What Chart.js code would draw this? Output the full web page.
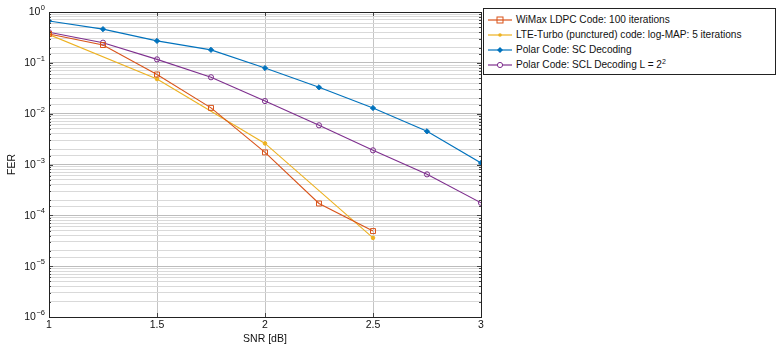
<!DOCTYPE html>
<html>
<head>
<meta charset="utf-8">
<script src="https://cdn.jsdelivr.net/npm/chart.js@4/dist/chart.umd.min.js"></script>
<style>
  html, body { margin: 0; padding: 0; background: #fff; }
  #wrap { position: relative; width: 778px; height: 345px; }
  #legend {
    position: absolute; left: 483px; top: 8px; width: 291px; height: 65px;
    border: 1px solid #222; background: #fff;
    font: 10.1px "Liberation Sans", Arial, sans-serif; color: #111;
  }
  #legend .row { position: absolute; left: 4px; height: 15px; display: flex; align-items: center; white-space: nowrap; }
  #legend svg { margin-right: 4px; }
  #legend sup { font-size: 7px; line-height: 0; }
</style>
</head>
<body>
<div id="wrap">
  <canvas id="chart" width="778" height="345"></canvas>
  <div id="legend"></div>
</div>
<script>
/* ─── Data ───────────────────────────────────────────────────────────────── */
const SNR_FULL   = [1, 1.25, 1.5, 1.75, 2, 2.25, 2.5, 2.75, 3];
const WIMAX_SNR  = [1, 1.25, 1.5, 1.75, 2, 2.25, 2.5];
const WIMAX_FER  = [0.369, 0.224, 0.059, 0.013, 0.00173, 0.000171, 0.000049];
const LTE_SNR    = [1, 1.5, 2, 2.5];
const LTE_FER    = [0.36, 0.048, 0.0026, 0.000036];
const SC_FER     = [0.665, 0.46, 0.27, 0.18, 0.079, 0.033, 0.0129, 0.0045, 0.00107];
const SCL_FER    = [0.40, 0.249, 0.117, 0.052, 0.0177, 0.0059, 0.0019, 0.00064, 0.000176];
const X_TICKS    = [1, 1.5, 2, 2.5, 3];
const Y_EXPONENTS = [0, -1, -2, -3, -4, -5, -6];

const SERIES = [
  { label: 'WiMax LDPC Code: 100 iterations', x: WIMAX_SNR, y: WIMAX_FER, color: '#D95319', style: 'rect', radius: 3.5, fill: false },
  { label: 'LTE-Turbo (punctured) code: log-MAP: 5 iterations', x: LTE_SNR, y: LTE_FER, color: '#EDB120', style: 'circle', radius: 1.8, fill: true },
  { label: 'Polar Code: SC Decoding', x: SNR_FULL, y: SC_FER, color: '#0072BD', style: 'rectRot', radius: 2.6, fill: true },
  { label: 'Polar Code: SCL Decoding L = 2<sup>2</sup>', x: SNR_FULL, y: SCL_FER, color: '#7E2F8E', style: 'circle', radius: 2.6, fill: false }
];

const FONT = '"Liberation Sans", Arial, sans-serif';

/* ─── Frame, inner ticks and tick labels (pgfplots look) ─────────────────── */
const axisDecor = {
  id: 'axisDecor',
  afterDraw(chart) {
    const { ctx, chartArea: a, scales: { x, y } } = chart;
    ctx.save();
    ctx.strokeStyle = '#444';
    ctx.lineWidth = 1;
    // inner ticks on y
    y.ticks.forEach(t => {
      const py = Math.round(y.getPixelForValue(t.value)) + 0.5;
      const major = Math.abs(Math.log10(t.value) - Math.round(Math.log10(t.value))) < 1e-6;
      const len = major ? 4 : 2;
      ctx.beginPath();
      ctx.moveTo(a.left, py); ctx.lineTo(a.left + len, py);
      ctx.moveTo(a.right, py); ctx.lineTo(a.right - len, py);
      ctx.stroke();
    });
    X_TICKS.forEach(v => {
      const px = Math.round(x.getPixelForValue(v)) + 0.5;
      ctx.beginPath();
      ctx.moveTo(px, a.bottom); ctx.lineTo(px, a.bottom - 4);
      ctx.moveTo(px, a.top); ctx.lineTo(px, a.top + 4);
      ctx.stroke();
    });
    // frame
    ctx.strokeStyle = '#222';
    ctx.strokeRect(Math.round(a.left) + 0.5, Math.round(a.top) + 0.5,
                   Math.round(a.right - a.left), Math.round(a.bottom - a.top));
    // y labels 10^k
    ctx.fillStyle = '#111';
    ctx.textBaseline = 'middle';
    Y_EXPONENTS.forEach(k => {
      const py = y.getPixelForValue(Math.pow(10, k));
      const exp = k === 0 ? '0' : '\u2212' + Math.abs(k);
      ctx.font = '7.5px ' + FONT;
      const wExp = ctx.measureText(exp).width;
      ctx.font = '10.5px ' + FONT;
      const wBase = ctx.measureText('10').width;
      const right = a.left - 4;
      ctx.textAlign = 'left';
      ctx.fillText('10', right - wExp - 0.5 - wBase, py + 0.5);
      ctx.font = '7.5px ' + FONT;
      ctx.fillText(exp, right - wExp, py - 4);
    });
    // y title
    ctx.font = '10.5px ' + FONT;
    ctx.translate(12, (a.top + a.bottom) / 2);
    ctx.rotate(-Math.PI / 2);
    ctx.textAlign = 'center';
    ctx.fillText('FER', 0, 0);
    ctx.restore();
  }
};

/* ─── Chart ──────────────────────────────────────────────────────────────── */
new Chart(document.getElementById('chart'), {
  type: 'line',
  data: {
    datasets: SERIES.map(s => ({
      label: s.label,
      data: s.x.map((v, i) => ({ x: v, y: s.y[i] })),
      borderColor: s.color,
      backgroundColor: s.fill ? s.color : 'rgba(0,0,0,0)',
      pointBorderColor: s.color,
      pointBackgroundColor: s.fill ? s.color : 'rgba(0,0,0,0)',
      pointStyle: s.style,
      pointRadius: s.radius,
      pointBorderWidth: 1,
      borderWidth: 1.1,
      tension: 0,
      fill: false
    }))
  },
  options: {
    responsive: false,
    animation: false,
    layout: { padding: { top: 12, right: 297, left: 0, bottom: 0 } },
    plugins: { legend: { display: false }, tooltip: { enabled: false } },
    scales: {
      x: {
        type: 'linear', min: 1, max: 3,
        afterBuildTicks: sc => { sc.ticks = X_TICKS.map(v => ({ value: v })); },
        afterFit: sc => { sc.height = 28; },
        ticks: { color: '#111', font: { family: FONT, size: 10.5 }, padding: 2, maxRotation: 0,
                 callback: v => String(v) },
        grid: { color: '#c4c4c4', drawTicks: false, lineWidth: 1 },
        border: { display: false },
        title: { display: true, text: 'SNR [dB]', color: '#111', font: { family: FONT, size: 10.5 },
                 padding: { top: 0, bottom: 0 } }
      },
      y: {
        type: 'logarithmic', min: 1e-6, max: 1,
        afterFit: sc => { sc.width = 49; },
        ticks: { display: true, callback: () => '', autoSkip: false },
        grid: {
          drawTicks: false, lineWidth: 1,
          color: ctx => {
            const v = ctx.tick && ctx.tick.value;
            const l = Math.log10(v);
            return Math.abs(l - Math.round(l)) < 1e-6 ? '#bdbdbd' : '#d9d9d9';
          }
        },
        border: { display: false }
      }
    }
  },
  plugins: [axisDecor]
});

/* ─── Legend ─────────────────────────────────────────────────────────────── */
const legend = document.getElementById('legend');
legend.innerHTML = SERIES.map((s, i) => {
  let mark;
  if (s.style === 'rect') mark = `<rect x="9" y="4" width="6" height="6" fill="none" stroke="${s.color}"/>`;
  else if (s.style === 'rectRot') mark = `<polygon points="12,4 15,7 12,10 9,7" fill="${s.color}"/>`;
  else if (s.fill) mark = `<circle cx="12" cy="7" r="1.8" fill="${s.color}"/>`;
  else mark = `<circle cx="12" cy="7" r="2.6" fill="#fff" stroke="${s.color}"/>`;
  return `<div class="row" style="top:${3 + i * 15}px">
    <svg width="24" height="14"><line x1="0" y1="7" x2="24" y2="7" stroke="${s.color}" stroke-width="1.2"/>${mark}</svg>
    <span>${s.label}</span></div>`;
}).join('');
</script>
</body>
</html>
